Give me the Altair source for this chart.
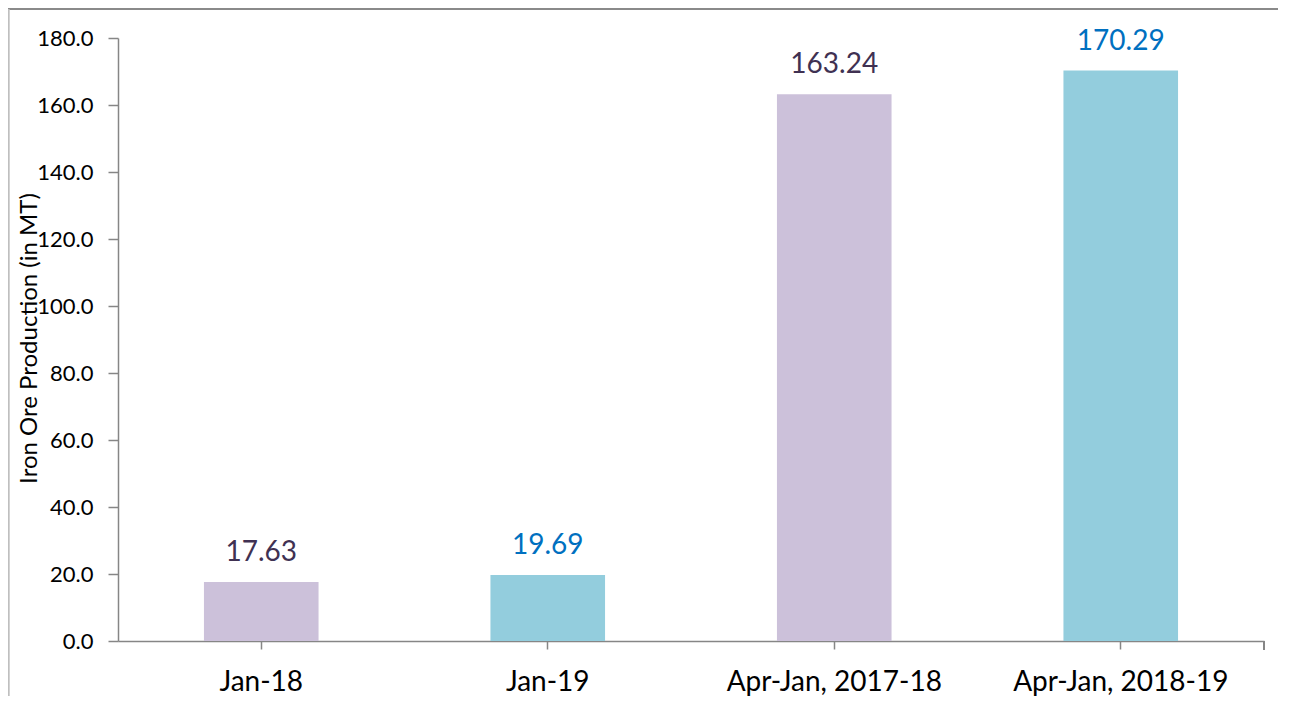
import altair as alt
import pandas as pd

categories = ["Jan-18", "Jan-19", "Apr-Jan, 2017-18", "Apr-Jan, 2018-19"]
years = ["2017-18", "2018-19", "2017-18", "2018-19"]
values = [17.63, 19.69, 163.24, 170.29]
y_ticks = [0, 20, 40, 60, 80, 100, 120, 140, 160, 180]

df = pd.DataFrame({"category": categories, "year": years, "value": values})

W, H = 1146, 603
FONT = "Lato"
AX = "#868686"

x_enc = alt.X(
    "category:N",
    sort=categories,
    title=None,
    scale=alt.Scale(paddingInner=0.6, paddingOuter=0.3),
    axis=alt.Axis(
        labelAngle=0, labelFont=FONT, labelFontSize=28, labelColor="#000000",
        labelPadding=19, tickSize=8, tickColor=AX, tickWidth=1.5,
        domainColor=AX, domainWidth=1.5, labelLimit=400,
    ),
)
y_enc = alt.Y(
    "value:Q",
    title="Iron Ore Production (in MT)",
    scale=alt.Scale(domain=[0, 180], nice=False),
    axis=alt.Axis(
        values=y_ticks, format=".1f", grid=False,
        labelFont=FONT, labelFontSize=22, labelColor="#000000", labelPadding=15,
        tickSize=10, tickColor=AX, tickWidth=1.5, domainColor=AX, domainWidth=1.5,
        titleFont=FONT, titleFontSize=24, titleFontWeight="normal", titleColor="#000000",
        titleX=-77, titleY=300, titleAngle=-90, titleBaseline="bottom",
    ),
)

bars = alt.Chart(df).mark_bar().encode(
    x=x_enc,
    y=y_enc,
    fill=alt.Fill("year:N", legend=None,
                  scale=alt.Scale(domain=["2017-18", "2018-19"], range=["#CCC1DA", "#93CDDD"])),
)

labels = alt.Chart(df).mark_text(
    font=FONT, fontSize=28, baseline="alphabetic", dy=-21
).encode(
    x=alt.X("category:N", sort=categories),
    y="value:Q",
    text=alt.Text("value:Q", format=".2f"),
    color=alt.Color("year:N", legend=None,
                    scale=alt.Scale(domain=["2017-18", "2018-19"], range=["#403152", "#0070C0"])),
)

end_tick = alt.Chart(df).mark_rule(color=AX, strokeWidth=1.5).encode(
    x=alt.value(W), y=alt.value(H), y2=alt.value(H + 9)
)
top_border = alt.Chart(df).mark_rule(color="#8a8a8a", strokeWidth=2).encode(
    x=alt.value(-110), x2=alt.value(W + 20), y=alt.value(-29)
)
left_border = alt.Chart(df).mark_rule(color="#bfbfbf", strokeWidth=1.5).encode(
    x=alt.value(-109.5), y=alt.value(-29), y2=alt.value(H + 60)
)

chart = alt.layer(bars, labels, end_tick, top_border, left_border).resolve_scale(
    color="independent", fill="independent"
).properties(
    width=W, height=H,
    autosize=alt.AutoSizeParams(type="none"),
    padding={"left": 110, "top": 30, "right": 14, "bottom": 55},
).configure_view(stroke=None)

chart.save("out.html", embed_options={"renderer": "svg", "actions": False})
